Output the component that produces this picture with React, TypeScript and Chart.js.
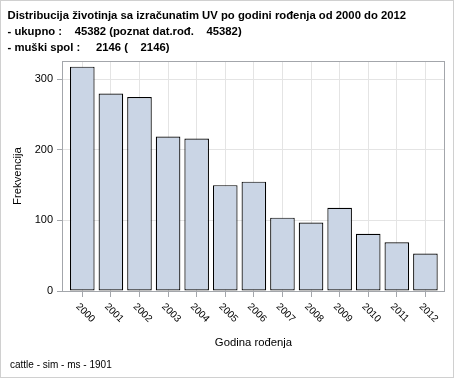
import React, { useEffect, useRef } from "react";
import { Chart, registerables } from "chart.js";

Chart.register(...registerables);

const categories = ["2000", "2001", "2002", "2003", "2004", "2005", "2006", "2007", "2008", "2009", "2010", "2011", "2012"];
const frequencies = [318, 280, 275, 219, 216, 150, 155, 104, 97, 118, 81, 69, 53];
const yTickValues = [0, 100, 200, 300];
const titleLines = [
  "Distribucija životinja sa izračunatim UV po godini rođenja od 2000 do 2012",
  "- ukupno :    45382 (poznat dat.rođ.    45382)",
  "- muški spol :     2146 (    2146)",
];
const xAxisTitle = "Godina rođenja";
const yAxisTitle = "Frekvencija";
const footnote = "cattle - sim - ms - 1901";

const FONT = "'Liberation Sans', Arial, sans-serif";

export default function App() {
  const ref = useRef<HTMLCanvasElement | null>(null);

  useEffect(() => {
    document.body.style.margin = "0";
    document.body.style.overflow = "hidden";
    const canvas = ref.current;
    if (!canvas) return;

    const decor = {
      id: "decor",
      beforeDraw(chart: any) {
        const ctx = chart.ctx;
        ctx.save();
        ctx.fillStyle = "#ffffff";
        ctx.fillRect(0, 0, chart.width, chart.height);
        ctx.restore();
      },
      beforeDatasetsDraw(chart: any) {
        const ctx = chart.ctx;
        const a = chart.chartArea;
        ctx.save();
        ctx.strokeStyle = "#a3a6ab";
        ctx.lineWidth = 1;
        ctx.strokeRect(Math.round(a.left) - 0.5, Math.round(a.top) + 0.5, Math.round(a.right - a.left) + 1, Math.round(a.bottom - a.top));
        ctx.restore();
      },
      afterDraw(chart: any) {
        const ctx = chart.ctx;
        const a = chart.chartArea;
        const xs = chart.scales.x;
        ctx.save();
        ctx.fillStyle = "#000000";
        ctx.font = `bold 11.3px ${FONT}`;
        ctx.textAlign = "left";
        ctx.textBaseline = "alphabetic";
        titleLines.forEach((t, i) => ctx.fillText(t, 7.5, 19 + i * 16));
        ctx.font = `10px ${FONT}`;
        categories.forEach((c, i) => {
          const px = xs.getPixelForValue(i);
          ctx.save();
          ctx.translate(px - 4.8, a.bottom + 14);
          ctx.rotate(Math.PI / 4);
          ctx.textAlign = "left";
          ctx.textBaseline = "middle";
          ctx.fillText(c, 0, 0);
          ctx.restore();
        });
        ctx.font = `11.3px ${FONT}`;
        ctx.textAlign = "center";
        ctx.textBaseline = "alphabetic";
        ctx.fillText(xAxisTitle, (a.left + a.right) / 2, 345.5);
        ctx.save();
        ctx.translate(20.5, (a.top + a.bottom) / 2);
        ctx.rotate(-Math.PI / 2);
        ctx.textAlign = "center";
        ctx.fillText(yAxisTitle, 0, 0);
        ctx.restore();
        ctx.font = `10px ${FONT}`;
        ctx.textAlign = "left";
        ctx.fillText(footnote, 10, 367.5);
        ctx.strokeStyle = "#d0d0d0";
        ctx.lineWidth = 1;
        ctx.strokeRect(0.5, 0.5, chart.width - 1, chart.height - 1);
        ctx.restore();
      },
    };

    const chart = new Chart(canvas, {
      type: "bar",
      data: {
        datasets: [
          {
            data: frequencies.map((v, i) => ({ x: i, y: v })),
            backgroundColor: "#cad5e5",
            borderColor: "#000000",
            borderWidth: 1.2,
            borderSkipped: false,
            barPercentage: 0.86,
            categoryPercentage: 1,
          },
        ],
      },
      options: {
        animation: false,
        responsive: false,
        devicePixelRatio: 1,
        layout: { padding: { top: 61, right: 10, bottom: 0, left: 0 } },
        plugins: { legend: { display: false }, tooltip: { enabled: false }, title: { display: false } },
        scales: {
          x: {
            type: "linear",
            offset: false,
            min: -0.675,
            max: 12.65,
            afterBuildTicks: (s: any) => {
              s.ticks = categories.map((_, i) => ({ value: i }));
            },
            afterFit: (s: any) => {
              s.height = 87;
            },
            grid: { offset: false, color: "#e4e4e4", tickColor: "#a3a6ab", tickLength: 6, drawTicks: true },
            border: { display: false },
            ticks: { display: false },
          },
          y: {
            min: 0,
            max: 326,
            afterBuildTicks: (s: any) => {
              s.ticks = yTickValues.map((v) => ({ value: v }));
            },
            afterFit: (s: any) => {
              s.width = 63;
            },
            grid: { color: "#e4e4e4", tickColor: "#a3a6ab", tickLength: 6 },
            border: { display: false },
            ticks: { color: "#000000", font: { family: FONT, size: 11 }, padding: 4 },
            title: { display: false },
          },
        },
      },
      plugins: [decor],
    } as any);

    return () => chart.destroy();
  }, []);

  return <canvas ref={ref} width={454} height={378} style={{ display: "block", width: 454, height: 378 }} />;
}
